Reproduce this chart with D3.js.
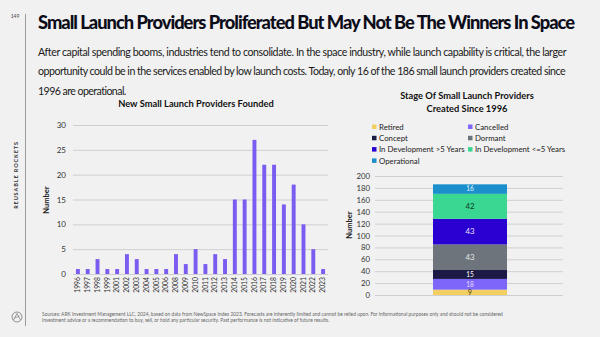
<!DOCTYPE html>
<html><head><meta charset="utf-8">
<script src="https://cdn.jsdelivr.net/npm/d3@7"></script>
<style>
body{margin:0;background:#f1f1f1;}
svg{display:block;font-family:Lato, "Open Sans", sans-serif;}
</style></head><body>
<svg id="c" width="600" height="337"></svg>
<script>
const years = ["1996","1997","1998","1999","2001","2002","2003","2004","2005","2006","2008","2009","2010","2011","2012","2013","2014","2015","2016","2017","2018","2019","2020","2021","2022","2023"];
const founded = [1,1,3,1,1,4,3,1,1,1,4,2,5,2,4,3,15,15,27,22,22,14,18,10,5,1];
const leftTicks = [0,5,10,15,20,25,30];

const stages = ["Retired","Cancelled","Concept","Dormant","In Development >5 Years","In Development <=5 Years","Operational"];
const stageValues = [9,18,15,43,43,42,16];
const stageColors = ["#f3cf62","#7f66fb","#1c1b45","#6d747b","#2a00d2","#3ad792","#1a8fcb"];
const stageLabelColors = ["#3a3300","#e3dcff","#ffffff","#e6e6e6","#e8e6ff","#0e3a28","#e6f4fb"];
const rightTicks = [0,20,40,60,80,100,120,140,160,180,200];
const legendOrder = ["Retired","Cancelled","Concept","Dormant","In Development >5 Years","In Development <=5 Years","Operational"];

const svg = d3.select("#c");
svg.append("rect").attr("width",600).attr("height",337).attr("fill","#f1f1f1");

function fitText(sel, target){
  const n = sel.text().length;
  const w = sel.node().getComputedTextLength();
  sel.attr("letter-spacing", ((target - w)/n).toFixed(3));
  return sel;
}

// page decorations
svg.append("line").attr("x1",25.5).attr("x2",25.5).attr("y1",14).attr("y2",326).attr("stroke","#9a9a9a").attr("stroke-width",1);
svg.append("text").attr("x",15).attr("y",18).attr("text-anchor","middle").attr("font-size",5).attr("fill","#444").text("149");
svg.append("text").attr("transform","translate(17.5,175) rotate(-90)").attr("text-anchor","middle").attr("font-size",5.5).attr("font-weight",700).attr("letter-spacing",0.9).attr("fill","#333").text("REUSABLE ROCKETS");
svg.append("circle").attr("cx",17).attr("cy",317).attr("r",5).attr("fill","none").attr("stroke","#666").attr("stroke-width",0.7);
svg.append("path").attr("d","M13.5,320 L17,313.5 L20.5,320 M14.5,318 L19.5,316").attr("fill","none").attr("stroke","#666").attr("stroke-width",0.6);

fitText(svg.append("text").attr("x",38).attr("y",29).attr("font-size",18.3).attr("font-weight",900).attr("fill","#0d0d1a")
  .text("Small Launch Providers Proliferated But May Not Be The Winners In Space"), 536);
const sub = ["After capital spending booms, industries tend to consolidate. In the space industry, while launch capability is critical, the larger",
"opportunity could be in the services enabled by low launch costs. Today, only 16 of the 186 small launch providers created since",
"1996 are operational."];
const subLen = [528,527,88];
sub.forEach((t,i)=>fitText(svg.append("text").attr("x",38).attr("y",56+i*19.3).attr("font-size",10.6).attr("fill","#1a1a1a").text(t), subLen[i]));

svg.append("text").attr("x",42).attr("y",316).attr("font-size",4.9).attr("fill","#666").text("Sources: ARK Investment Management LLC, 2024, based on data from NewSpace Index 2023. Forecasts are inherently limited and cannot be relied upon. For informational purposes only and should not be considered");
svg.append("text").attr("x",42).attr("y",322).attr("font-size",4.9).attr("fill","#666").text("investment advice or a recommendation to buy, sell, or hold any particular security. Past performance is not indicative of future results.");

// left chart
const x = d3.scaleBand().domain(years).range([73,328]).paddingInner(0.6).paddingOuter(0.3);
const y = d3.scaleLinear().domain([0,30]).range([274,125]);
svg.append("text").attr("x",196).attr("y",107).attr("text-anchor","middle").attr("font-size",9.3).attr("font-weight",700).attr("fill","#111").text("New Small Launch Providers Founded");
const ga = svg.append("g").attr("transform","translate(73,0)")
  .call(d3.axisLeft(y).tickValues(leftTicks).tickSize(-255).tickPadding(7));
ga.select(".domain").remove();
ga.selectAll(".tick line").attr("stroke","#cfcfcf").attr("stroke-width",1);
ga.selectAll(".tick text").attr("font-size",8).attr("fill","#333").attr("font-family","Lato, sans-serif");
svg.append("text").attr("transform","translate(49,200) rotate(-90)").attr("text-anchor","middle").attr("font-size",7.5).attr("font-weight",700).attr("fill","#222").text("Number");
svg.append("g").selectAll("rect").data(founded).join("rect")
  .attr("x",(d,i)=>x(years[i])).attr("width",x.bandwidth())
  .attr("y",d=>y(d)).attr("height",d=>y(0)-y(d)).attr("fill","#7b5cf1");
const gx = svg.append("g").attr("transform","translate(0,274)").call(d3.axisBottom(x).tickSize(0).tickPadding(4));
gx.select(".domain").remove();
gx.selectAll(".tick text").attr("transform","rotate(-90)").attr("text-anchor","end").attr("dx","-3").attr("dy","0.32em").attr("x",0).attr("y",0)
  .attr("font-size",6.8).attr("fill","#333").attr("font-family","Lato, sans-serif");

// right chart
svg.append("text").attr("x",467).attr("y",99).attr("text-anchor","middle").attr("font-size",9.3).attr("font-weight",700).attr("fill","#111").text("Stage Of Small Launch Providers");
svg.append("text").attr("x",467).attr("y",112).attr("text-anchor","middle").attr("font-size",9.3).attr("font-weight",700).attr("fill","#111").text("Created Since 1996");
legendOrder.forEach((s,i)=>{
  const col=i%2,row=Math.floor(i/2);
  const lx = col===0?372:468, ly = 127+row*11.3;
  const c = stageColors[stages.indexOf(s)];
  svg.append("rect").attr("x",lx).attr("y",ly-2.5).attr("width",4.5).attr("height",4.5).attr("fill",c);
  svg.append("text").attr("x",lx+7).attr("y",ly+2.6).attr("font-size",7.8).attr("fill","#222").text(s);
});
const y2 = d3.scaleLinear().domain([0,200]).range([295,176]);
const gr = svg.append("g").attr("transform","translate(375,0)")
  .call(d3.axisLeft(y2).tickValues(rightTicks).tickSize(-188).tickPadding(5));
gr.select(".domain").remove();
gr.selectAll(".tick line").attr("stroke","#cfcfcf").attr("stroke-width",1);
gr.selectAll(".tick text").attr("font-size",7.8).attr("fill","#333").attr("font-family","Lato, sans-serif");
svg.append("text").attr("transform","translate(352,225) rotate(-90)").attr("text-anchor","middle").attr("font-size",7.5).attr("font-weight",700).attr("fill","#222").text("Number");
let cum=0;
const stacks = stageValues.map((v,i)=>{const o={v,i,y0:cum,y1:cum+v};cum+=v;return o;});
const gb = svg.append("g");
gb.selectAll("rect").data(stacks).join("rect")
  .attr("x",433).attr("width",74)
  .attr("y",d=>y2(d.y1)).attr("height",d=>y2(d.y0)-y2(d.y1)).attr("fill",d=>stageColors[d.i]);
gb.selectAll("text").data(stacks).join("text")
  .attr("x",470).attr("y",d=>(y2(d.y0)+y2(d.y1))/2+ (d.v<12?2.6:2.4)).attr("text-anchor","middle")
  .attr("font-size",d=>d.v<20?6.6:7.8).attr("fill",d=>stageLabelColors[d.i]).text(d=>d.v);
</script>
</body></html>
